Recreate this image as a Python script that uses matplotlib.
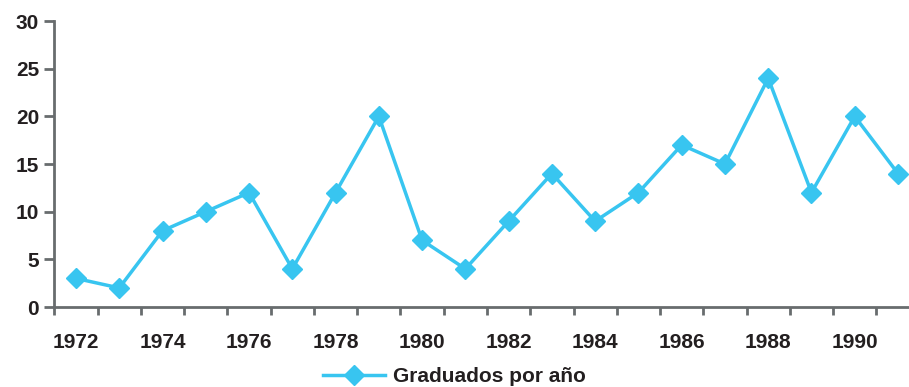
import numpy as np
import matplotlib.pyplot as plt

years = list(range(1972, 1992))
graduates = [3, 2, 8, 10, 12, 4, 12, 20, 7, 4, 9, 14, 9, 12, 17, 15, 24, 12, 20, 14]
yticks = [0, 5, 10, 15, 20, 25, 30]

blue = '#38c5f0'
gray = '#686c6e'
ink = '#231f20'

plt.rcParams['font.family'] = ['Liberation Sans', 'DejaVu Sans']
plt.rcParams['font.weight'] = 'bold'
plt.rcParams['text.color'] = ink

fig = plt.figure(figsize=(9.09, 3.87), dpi=100)
ax = fig.add_axes([0.0598, 0.2067, 0.9519, 0.739])

x = np.arange(len(years))
ax.plot(x, graduates, color=blue, lw=2.5, marker='D', ms=10.5,
        mec=blue, mfc=blue, label='Graduados por año', clip_on=False)

ax.set_xlim(-0.5, len(years) - 0.5)
ax.set_ylim(0, 30)
ax.set_yticks(yticks)

# labels every other year, tick marks on category boundaries
ax.set_xticks(x[::2])
ax.set_xticklabels([str(y) for y in years[::2]])
ax.set_xticks(np.arange(-0.5, len(years), 1), minor=True)
ax.tick_params(axis='x', which='major', length=0, pad=19, labelsize=15,
               labelcolor=ink)
ax.tick_params(axis='x', which='minor', length=6, width=2, color=gray)
ax.tick_params(axis='y', length=7, width=2, color=gray, pad=4, labelsize=15,
               labelcolor=ink)

for side in ['top', 'right']:
    ax.spines[side].set_visible(False)
for side in ['left', 'bottom']:
    ax.spines[side].set_color(gray)
    ax.spines[side].set_linewidth(2)

fig.legend(loc='center', bbox_to_anchor=(0.5, 0.027), frameon=False,
           handlelength=3.0, handletextpad=0.4, fontsize=15)

fig.savefig('out.png', dpi=100)
